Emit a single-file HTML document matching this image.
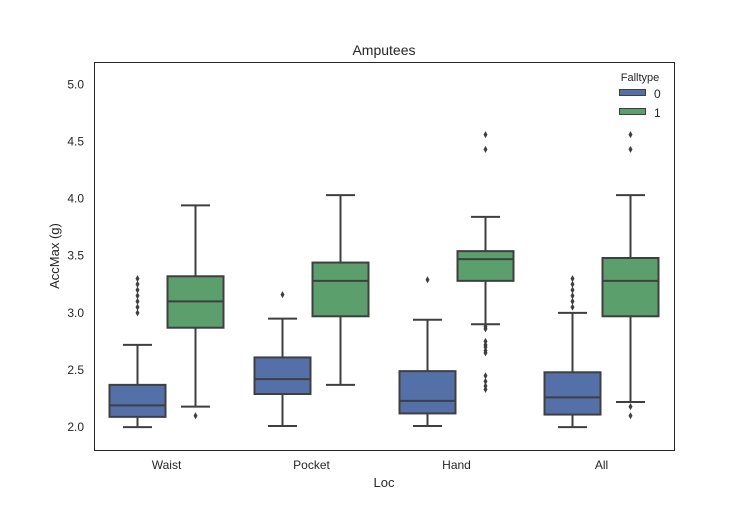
<!DOCTYPE html>
<html><head><meta charset="utf-8"><style>
body{margin:0;background:#fff}
svg text{font-family:"Liberation Sans",Arial,sans-serif;fill:#262626}
</style></head><body>
<svg id="chart" width="748" height="514" xmlns="http://www.w3.org/2000/svg">
<rect x="0" y="0" width="748" height="514" fill="#fff"/>
<g id="marks"></g>
<rect x="94.5" y="62.5" width="580" height="388" fill="none" stroke="#262626" stroke-width="1"/>
<g id="yticks"></g>
<g id="xticks"></g>
<text x="384" y="55" text-anchor="middle" font-size="14">Amputees</text>
<text x="384" y="487" text-anchor="middle" font-size="13">Loc</text>
<text transform="translate(59,256) rotate(-90)" text-anchor="middle" font-size="13">AccMax (g)</text>
<g>
<text x="640" y="81" text-anchor="middle" font-size="11">Falltype</text>
<rect x="619.5" y="89.5" width="26" height="6" fill="#5470a8" stroke="#3f3f3f"/>
<text x="654" y="98" font-size="12">0</text>
<rect x="619.5" y="108.5" width="26" height="6" fill="#5a9f6c" stroke="#3f3f3f"/>
<text x="654" y="117" font-size="12">1</text>
</g>
</svg>
<script>
const categories=["Waist","Pocket","Hand","All"];
const yTicks=[2.0,2.5,3.0,3.5,4.0,4.5,5.0];
// [whiskerLow, Q1, median, Q3, whiskerHigh]
const stats0=[[2.0,2.09,2.19,2.37,2.72],[2.01,2.29,2.42,2.61,2.95],[2.01,2.12,2.23,2.49,2.94],[2.0,2.11,2.26,2.48,3.0]];
const stats1=[[2.18,2.87,3.10,3.32,3.94],[2.37,2.97,3.28,3.44,4.03],[2.90,3.28,3.47,3.54,3.84],[2.22,2.97,3.28,3.48,4.03]];
const outliers0=[[3.0,3.05,3.1,3.15,3.2,3.25,3.3],[3.16],[3.29],[3.05,3.1,3.15,3.2,3.25,3.3]];
const outliers1=[[2.10],[],[4.56,4.43,2.88,2.86,2.75,2.72,2.70,2.67,2.65,2.45,2.40,2.36,2.33],[4.56,4.43,2.18,2.10]];
const colors=["#5470a8","#5a9f6c"];
const X0=94,X1=674,Y0=450,Y1=62,VMIN=1.8,VMAX=5.195;
const y=v=>Y0-(v-VMIN)/(VMAX-VMIN)*(Y0-Y1);
const band=(X1-X0)/categories.length;
const cx=i=>X0+band*(i+0.5);
const ns="http://www.w3.org/2000/svg";
function mk(tag,attrs,parent){const e=document.createElementNS(ns,tag);for(const k in attrs)e.setAttribute(k,attrs[k]);parent.appendChild(e);return e;}
const marks=document.getElementById('marks');
const bw=band*0.4;
[stats0,stats1].forEach((S,h)=>{
  S.forEach((s,i)=>{
    const c=cx(i)+(h===0?-bw/2:bw/2);
    const g=mk('g',{},marks);
    
    
    const st={stroke:'#3f3f3f','stroke-width':2};
    mk('line',Object.assign({x1:c,x2:c,y1:y(s[0]),y2:y(s[1])},st),g);
    mk('line',Object.assign({x1:c,x2:c,y1:y(s[3]),y2:y(s[4])},st),g);
    mk('line',Object.assign({x1:c-bw/4,x2:c+bw/4,y1:y(s[0]),y2:y(s[0])},st),g);
    mk('line',Object.assign({x1:c-bw/4,x2:c+bw/4,y1:y(s[4]),y2:y(s[4])},st),g);
    mk('rect',Object.assign({x:c-bw/2+1,y:y(s[3]),width:bw-2,height:y(s[1])-y(s[3]),fill:colors[h]},st),g);
    mk('line',Object.assign({x1:c-bw/2+1,x2:c+bw/2-1,y1:y(s[2]),y2:y(s[2])},st),g);
    const O=(h===0?outliers0:outliers1)[i];
    O.forEach(v=>{const d=mk('path',{d:`M${c} ${y(v)-3.5}L${c+2} ${y(v)}L${c} ${y(v)+3.5}L${c-2} ${y(v)}Z`,fill:'#3f3f3f'},g);
      
      });
  });
});
const yt=document.getElementById('yticks');
yTicks.forEach(v=>{const t=mk('text',{x:84,y:y(v)+4,'text-anchor':'end','font-size':12},yt);t.textContent=v.toFixed(1);
  
  });
const xt=document.getElementById('xticks');
categories.forEach((c,i)=>{const t=mk('text',{x:cx(i),y:469,'text-anchor':'middle','font-size':12},xt);t.textContent=c;
  
  });
</script>
</body></html>
